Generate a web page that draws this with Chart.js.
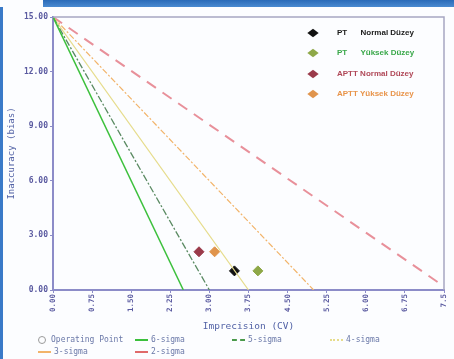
<!DOCTYPE html>
<html>
<head>
<meta charset="utf-8">
<script src="https://cdn.jsdelivr.net/npm/chart.js@4.4.0/dist/chart.umd.min.js"></script>
<style>
  html, body { margin: 0; padding: 0; background: #fff; }
  #wrap { position: relative; width: 454px; height: 359px; background: #fcfdff; overflow: hidden; }
  #topbar { position: absolute; left: 43px; top: 0; width: 411px; height: 7px; background: linear-gradient(#2a6ab8, #4a8ad0); }
  #leftbar { position: absolute; left: 0; top: 7px; width: 3px; height: 352px; background: #3a7ac8; }
  canvas { position: absolute; left: 0; top: 0; }
  .key { position: absolute; font: bold 8px "Liberation Sans", Arial, sans-serif; white-space: pre; }
  .dia { position: absolute; width: 8px; height: 8px; transform: scaleY(0.75) rotate(45deg); }
  .bl { position: absolute; font: 8px "DejaVu Sans Mono", monospace; color: #6a78a8; white-space: pre; }
  .sw { position: absolute; width: 13px; height: 0; }
</style>
</head>
<body>
<div id="wrap">
  <div id="topbar"></div>
  <div id="leftbar"></div>
  <canvas id="myChart" width="454" height="359"></canvas>
</div>
<script>
// total allowable error and where each sigma line meets the x axis
var tea = 15;
var sigmaNames = ['6-sigma', '5-sigma', '4-sigma', '3-sigma', '2-sigma'];
var sigmaIntercepts = [2.5, 3, 3.75, 5, 7.6];
var sigmaColors = ['#3cc03c', '#5a8a62', '#e6dc8c', '#f2b46a', '#e8909a'];
var sigmaDash = [[], [7, 2, 2, 2], [], [6, 2, 2, 2], [11, 8]];
var sigmaWidth = [1.5, 1.3, 1.2, 1.2, 2];

// operating points
var pointNames = ['PT      Normal Düzey', 'PT      Yüksek Düzey', 'APTT Normal Düzey', 'APTT Yüksek Düzey'];
var pointCV = [3.48, 3.93, 2.8, 3.1];
var pointBias = [1.05, 1.05, 2.1, 2.1];
var pointColors = ['#111111', '#8ea848', '#9a3a4a', '#e0944c'];
var textColors = ['#1a1a1a', '#3aa84a', '#b04858', '#e8944a'];

var xTicks = [0, 0.75, 1.5, 2.25, 3, 3.75, 4.5, 5.25, 6, 6.75, 7.5];
var yTicks = [0, 3, 6, 9, 12, 15];

var axisColor = '#8c8cc8';
var labelColor = '#5a5aa0';
var monoFont = 'DejaVu Sans Mono';

var datasets = [];
for (i = 0; i < sigmaNames.length; i++) {
    datasets.push({
        label: sigmaNames[i],
        data: [{x: 0, y: tea}, {x: sigmaIntercepts[i], y: 0}],
        showLine: true,
        borderColor: sigmaColors[i],
        borderWidth: sigmaWidth[i],
        borderDash: sigmaDash[i],
        pointRadius: 0
    });
}
for (i = 0; i < pointNames.length; i++) {
    datasets.push({
        label: pointNames[i],
        data: [{x: pointCV[i], y: pointBias[i]}],
        pointStyle: 'rectRot',
        pointRadius: 5,
        backgroundColor: pointColors[i],
        borderColor: pointColors[i]
    });
}

// top and right edges of the plot box
var boxPlugin = {
    id: 'box',
    afterDraw: function(chart) {
        var a = chart.chartArea, ctx = chart.ctx;
        ctx.save();
        ctx.strokeStyle = '#a6a6c2';
        ctx.lineWidth = 1.5;
        ctx.beginPath();
        ctx.moveTo(a.left, a.top);
        ctx.lineTo(a.right, a.top);
        ctx.lineTo(a.right, a.bottom);
        ctx.stroke();
        ctx.restore();
    }
};

var ctx = document.getElementById('myChart').getContext('2d');
var myChart = new Chart(ctx, {
    type: 'scatter',
    data: { datasets: datasets },
    plugins: [boxPlugin],
    options: {
        responsive: false,
        animation: false,
        clip: 0,
        layout: { padding: { left: 0, top: 17, right: 6, bottom: 26 } },
        plugins: { legend: { display: false }, tooltip: { enabled: false } },
        scales: {
            x: {
                type: 'linear',
                min: 0,
                max: 7.5,
                afterBuildTicks: function(s) { s.ticks = xTicks.map(function(v) { return {value: v}; }); },
                afterFit: function(s) { s.height = 43; },
                ticks: {
                    autoSkip: false,
                    minRotation: 90,
                    maxRotation: 90,
                    padding: 1,
                    color: labelColor,
                    font: { family: monoFont, size: 7.5, weight: 'bold' },
                    callback: function(v) { return v === 7.5 ? '7.5' : v.toFixed(2); }
                },
                grid: { drawOnChartArea: false, tickLength: 3, color: axisColor },
                border: { color: axisColor, width: 2 },
                title: {
                    display: true,
                    text: 'Imprecision (CV)',
                    color: '#5262a6',
                    font: { family: monoFont, size: 9.5 },
                    padding: { top: 0, bottom: 1 }
                }
            },
            y: {
                min: 0,
                max: 15,
                afterBuildTicks: function(s) { s.ticks = yTicks.map(function(v) { return {value: v}; }); },
                afterFit: function(s) { s.width = 53; },
                ticks: {
                    padding: 2,
                    color: labelColor,
                    font: { family: monoFont, size: 8, weight: 'bold' },
                    callback: function(v) { return v.toFixed(2); }
                },
                grid: { drawOnChartArea: false, tickLength: 3, color: axisColor },
                border: { color: axisColor, width: 2 },
                title: {
                    display: true,
                    text: 'Inaccuracy (bias)',
                    color: '#5262a6',
                    font: { family: monoFont, size: 9 },
                    padding: { top: 6, bottom: 0 }
                }
            }
        }
    }
});

// legend of operating points, top right inside the plot
var wrap = document.getElementById('wrap');
for (i = 0; i < pointNames.length; i++) {
    var d = document.createElement('div');
    d.className = 'dia';
    d.style.left = '309px';
    d.style.top = (29 + i * 20.3) + 'px';
    d.style.background = pointColors[i];
    wrap.appendChild(d);
    var t = document.createElement('div');
    t.className = 'key';
    t.style.left = '337px';
    t.style.top = (28 + i * 20.3) + 'px';
    t.style.color = textColors[i];
    t.textContent = pointNames[i];
    wrap.appendChild(t);
}

// legend under the chart
var legItems = [{name: 'Operating Point', color: '#9a9a9a', kind: 'circle'}];
for (i = 0; i < sigmaNames.length; i++) {
    legItems.push({name: sigmaNames[i], color: ['#3cc03c', '#4a9a4a', '#e6dc8c', '#f2b46a', '#e06a6a'][i], kind: ['solid', 'dashed', 'dotted', 'solid', 'solid'][i]});
}
var legX = [38, 135, 232, 330, 38, 135];
var legY = [335, 335, 335, 335, 347, 347];
for (i = 0; i < legItems.length; i++) {
    var it = legItems[i];
    var textLeft = legX[i] + 16;
    if (it.kind === 'circle') {
        var c = document.createElement('div');
        c.style.cssText = 'position:absolute;width:6px;height:6px;border:1.5px solid ' + it.color + ';border-radius:50%;left:' + legX[i] + 'px;top:' + (legY[i] + 1) + 'px';
        wrap.appendChild(c);
        textLeft = legX[i] + 13;
    } else {
        var s = document.createElement('div');
        s.className = 'sw';
        s.style.left = legX[i] + 'px';
        s.style.top = (legY[i] + 4) + 'px';
        s.style.borderTop = '2px ' + it.kind + ' ' + it.color;
        wrap.appendChild(s);
    }
    var l = document.createElement('div');
    l.className = 'bl';
    l.style.left = textLeft + 'px';
    l.style.top = legY[i] + 'px';
    l.textContent = it.name;
    wrap.appendChild(l);
}
</script>
</body>
</html>
